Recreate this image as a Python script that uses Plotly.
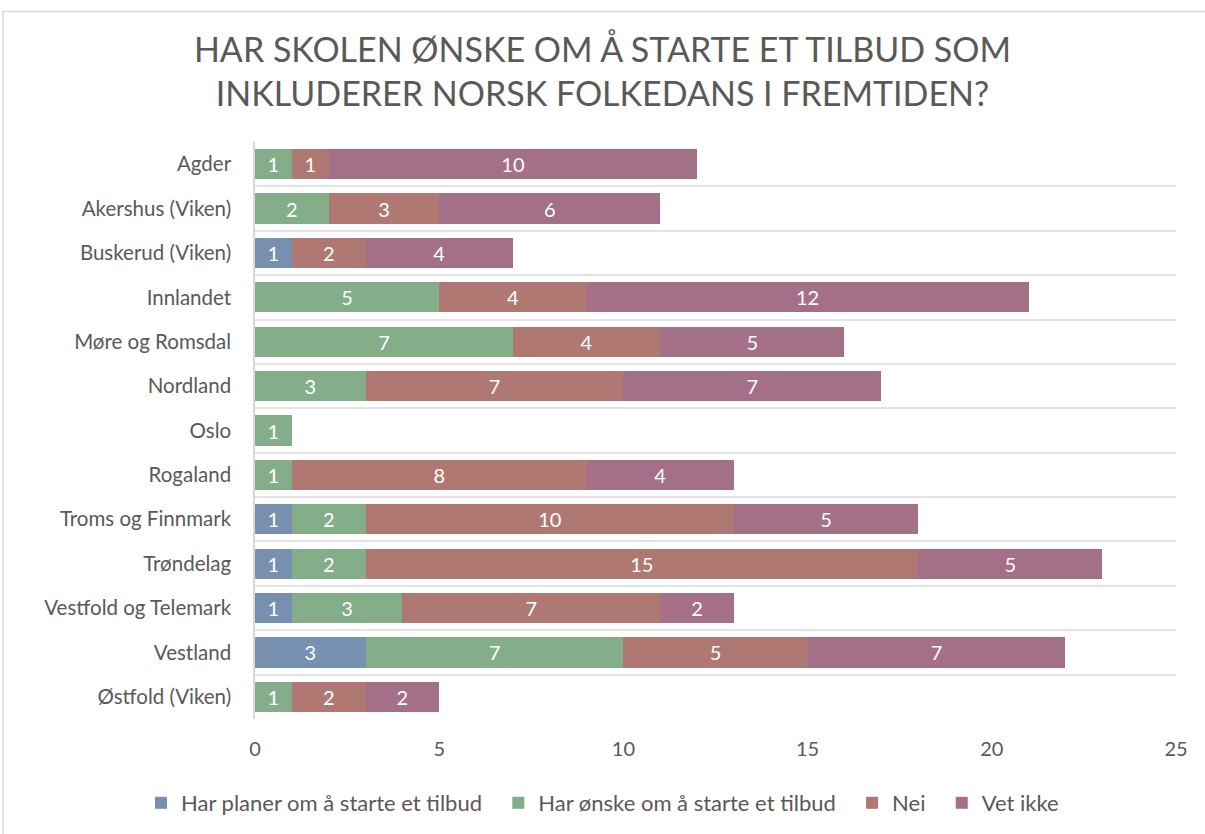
import plotly.graph_objects as go

categories = ["Agder", "Akershus (Viken)", "Buskerud (Viken)", "Innlandet", "Møre og Romsdal",
              "Nordland", "Oslo", "Rogaland", "Troms og Finnmark", "Trøndelag",
              "Vestfold og Telemark", "Vestland", "Østfold (Viken)"]

har_planer = [None, None, 1, None, None, None, None, None, 1, 1, 1, 3, None]
har_onske = [1, 2, None, 5, 7, 3, 1, 1, 2, 2, 3, 7, 1]
nei = [1, 3, 2, 4, 4, 7, None, 8, 10, 15, 7, 5, 2]
vet_ikke = [10, 6, 4, 12, 5, 7, None, 4, 5, 5, 2, 7, 2]

series_names = ["Har planer om å starte et tilbud", "Har ønske om å starte et tilbud", "Nei", "Vet ikke"]
series_values = [har_planer, har_onske, nei, vet_ikke]
series_colors = ["#7890B0", "#84AE89", "#B07873", "#A47088"]

x_ticks = [0, 5, 10, 15, 20, 25]

PAD = "\u00a0\u00a0"

fig = go.Figure()
for i, (name, vals, color) in enumerate(zip(series_names, series_values, series_colors)):
    fig.add_trace(go.Bar(
        y=categories, x=vals, name=name + (PAD if i < len(series_names) - 1 else ""),
        orientation="h",
        marker=dict(color=color, line=dict(width=0)),
        texttemplate="%{x}", textposition="inside", insidetextanchor="middle",
        textangle=0, constraintext="none",
        textfont=dict(color="white", size=20, family="Lato"),
        hoverinfo="skip",
    ))

W, H = 1205, 834
L, R, T, B = 255, 1176, 142, 719

fig.update_layout(
    width=W, height=H,
    barmode="stack", bargap=0.32,
    paper_bgcolor="white", plot_bgcolor="white",
    margin=dict(l=L, r=W - R, t=T, b=H - B, autoexpand=False),
    font=dict(family="Lato", size=20, color="#595959"),
    title=dict(
        text="HAR SKOLEN ØNSKE OM Å STARTE ET TILBUD SOM<br>INKLUDERER NORSK FOLKEDANS I FREMTIDEN?",
        x=0.5, xref="container", xanchor="center",
        y=1 - 62 / H, yref="container", yanchor="top",
        font=dict(family="Lato", size=34, color="#595959"),
    ),
    xaxis=dict(range=[0, 25], tickvals=x_ticks, showgrid=False, zeroline=False,
               showline=False, ticks="", ticklabelstandoff=16,
               tickfont=dict(size=20, color="#595959")),
    yaxis=dict(type="category", autorange="reversed", tickson="boundaries",
               showgrid=True, gridcolor="#E3E3E3", gridwidth=1.5,
               showline=True, linecolor="#D9D9D9", linewidth=1.5,
               ticks="", ticklabelstandoff=18,
               tickfont=dict(size=20.5, color="#595959")),
    legend=dict(orientation="h", xref="container", yref="container",
                x=0.5, xanchor="center", y=(H - 803) / H, yanchor="middle",
                font=dict(size=22, color="#595959"), traceorder="normal",
                itemwidth=30),
    showlegend=True,
)

fig.add_shape(type="rect", xref="paper", yref="paper",
              x0=(3 - L) / (R - L), x1=(1215 - L) / (R - L),
              y0=(B - 845) / (B - T), y1=(B - 11.5) / (B - T),
              line=dict(color="#D9D9D9", width=1.5), fillcolor="rgba(0,0,0,0)", layer="below")

fig.write_html("out.html", config={"displayModeBar": False},
               post_script="document.body.style.margin='0px';document.body.style.overflow='hidden';")
